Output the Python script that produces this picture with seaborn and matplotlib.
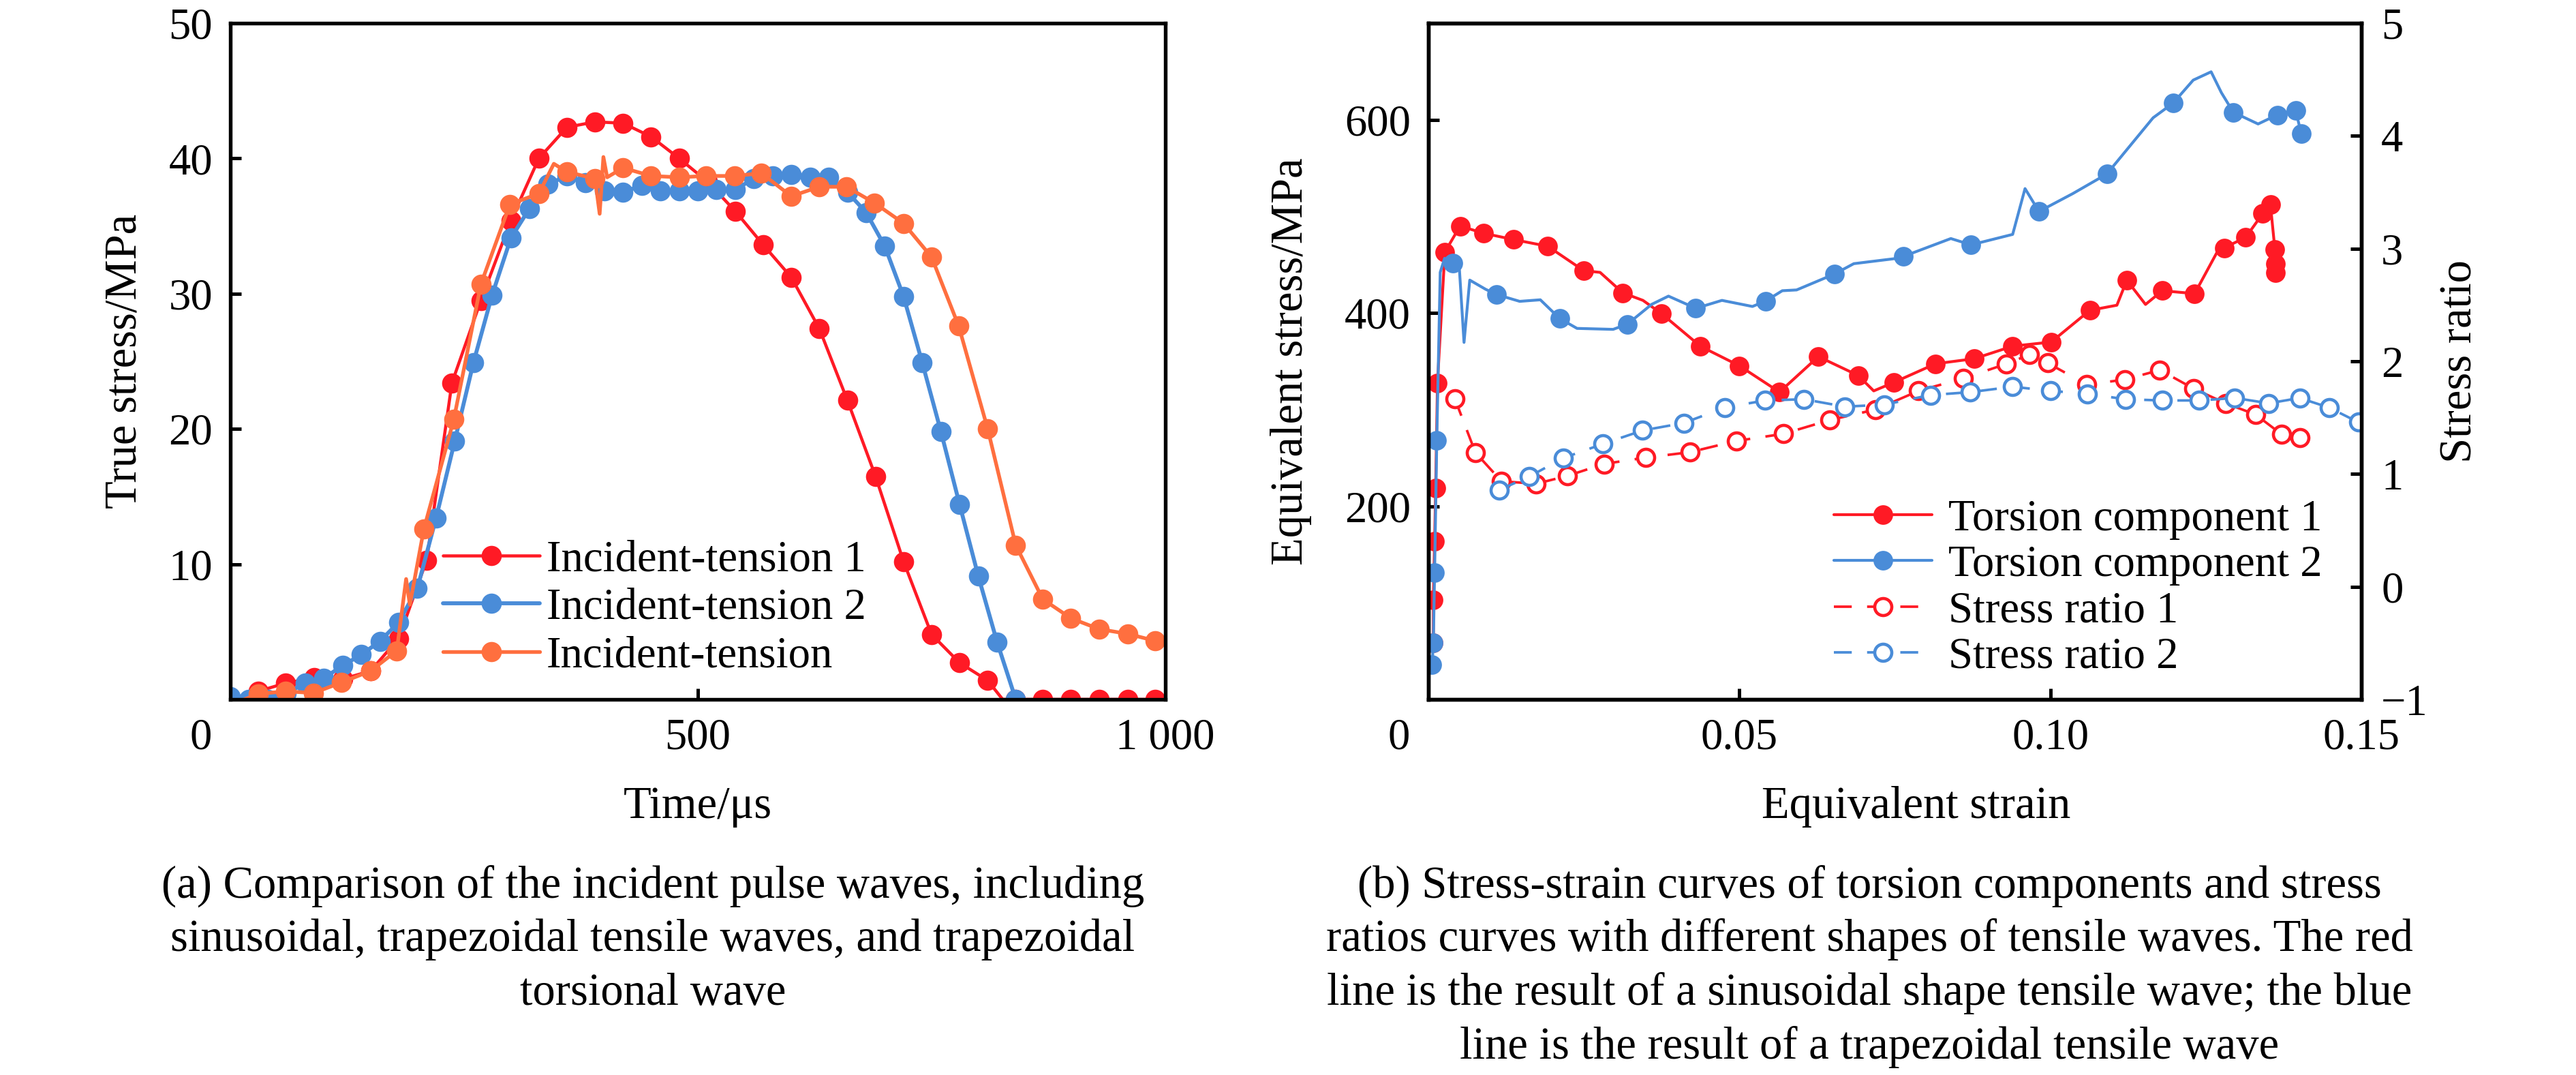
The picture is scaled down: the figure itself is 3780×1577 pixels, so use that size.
import numpy as np
import pandas as pd
import matplotlib
matplotlib.use("Agg")
import matplotlib.pyplot as plt
import matplotlib.transforms as mtransforms
import seaborn as sns

# ---------------- panel (a) data: incident pulse waves ----------------
t_tension1 = [12, 30, 59, 90, 120, 150, 180, 210, 237, 268, 300, 330, 360, 390, 420, 450,
              480, 510, 540, 570, 600, 630, 660, 690, 720, 750, 780, 810, 826, 840, 869,
              899, 929, 960, 989, 1000]
s_tension1 = [0.0, 0.6, 1.2, 1.6, 1.5, 2.1, 4.5, 10.3, 23.4, 29.5, 35.4, 40.0, 42.3, 42.7,
              42.6, 41.6, 40.0, 38.3, 36.1, 33.6, 31.2, 27.4, 22.1, 16.5, 10.2, 4.8, 2.7,
              1.4, 0.0, 0.0, 0.0, 0.0, 0.0, 0.0, 0.0, 0.0]
m_tension1 = [0, 1, 1, 1, 1, 1, 1, 1, 1, 1, 1, 1, 1, 1, 1, 1, 1, 1, 1, 1, 1, 1, 1, 1, 1,
              1, 1, 1, 0, 1, 1, 1, 1, 1, 1, 0]

t_tension2 = [0, 20, 40, 60, 80, 100, 120, 140, 160, 180, 200, 220, 240, 260, 280, 300,
              320, 340, 360, 380, 400, 420, 440, 460, 480, 500, 520, 540, 560, 580, 600,
              620, 640, 660, 680, 700, 720, 740, 760, 780, 800, 820, 840]
s_tension2 = [0.2, 0.0, 0.0, 0.45, 1.2, 1.56, 2.5, 3.3, 4.3, 5.7, 8.2, 13.4, 19.1, 24.9,
              29.9, 34.1, 36.3, 38.1, 38.7, 38.2, 37.6, 37.5, 38.0, 37.6, 37.6, 37.6, 37.7,
              37.7, 38.5, 38.7, 38.8, 38.6, 38.6, 37.5, 36.0, 33.5, 29.8, 24.9, 19.8, 14.4,
              9.1, 4.25, 0.0]
m_tension2 = [1] * len(t_tension2)

t_tension = [15, 30, 59, 89, 119, 150, 178, 188, 192, 207, 239, 268, 299, 330, 346, 360,
             390, 395, 399, 403, 420, 450, 480, 509, 539, 568, 600, 630, 659, 689, 720,
             750, 779, 810, 840, 869, 899, 929, 960, 989, 1000]
s_tension = [0.0, 0.4, 0.6, 0.47, 1.25, 2.1, 3.6, 8.9, 7.0, 12.6, 20.7, 30.7, 36.6, 37.4,
             39.6, 39.0, 38.5, 35.9, 40.1, 38.6, 39.3, 38.7, 38.6, 38.7, 38.7, 38.9, 37.2,
             37.9, 37.9, 36.7, 35.2, 32.7, 27.6, 20.0, 11.4, 7.4, 6.0, 5.2, 4.84, 4.33, 4.2]
m_tension = [0, 1, 1, 1, 1, 1, 1, 0, 0, 1, 1, 1, 1, 1, 0, 1, 1, 0, 0, 0, 1, 1, 1, 1, 1,
             1, 1, 1, 1, 1, 1, 1, 1, 1, 1, 1, 1, 1, 1, 1, 0]

labels_a = ["Incident-tension 1", "Incident-tension 2", "Incident-tension"]
xticks_a = [0, 500, 1000]
xticklabels_a = ["0", "500", "1 000"]
yticks_a = [10, 20, 30, 40, 50]
yticklabels_a = ["10", "20", "30", "40", "50"]

# ---------------- panel (b) data: stress-strain & stress ratio ----------------
e_torsion1 = [0.0008, 0.0008, 0.0010, 0.00117, 0.00146, 0.00265, 0.0051, 0.00886, 0.01365,
              0.0192, 0.0250, 0.0276, 0.03126, 0.0345, 0.0375, 0.04374, 0.0500, 0.05645,
              0.0627, 0.0691, 0.0716, 0.0748, 0.08154, 0.08774, 0.09394, 0.10014, 0.10635,
              0.1107, 0.1123, 0.1153, 0.1180, 0.1232, 0.1269, 0.12794, 0.13141, 0.13414,
              0.13538, 0.1361, 0.1362, 0.1362]
s_torsion1 = [58.7, 103, 163.5, 218.5, 327.6, 463, 490, 482.5, 476, 469, 443.7, 442, 420.8,
              413, 399.2, 365.5, 345.3, 318.1, 354.8, 335.3, 319.3, 328, 347.4, 352.6, 365.6,
              369.9, 402.7, 408, 433.9, 408.8, 423, 420, 464, 467.4, 478.2, 502.8, 512.3,
              466, 451, 442]
m_torsion1 = [1, 1, 1, 1, 1, 1, 1, 1, 1, 1, 1, 0, 1, 0, 1, 1, 1, 1, 1, 1, 0, 1, 1, 1, 1,
              1, 1, 0, 1, 0, 1, 1, 0, 1, 1, 1, 1, 1, 1, 1]

e_torsion2 = [0.0006, 0.0008, 0.0010, 0.00135, 0.0019, 0.0026, 0.0039, 0.0050, 0.00573,
              0.00665, 0.0092, 0.0110, 0.01468, 0.0180, 0.0211, 0.0239, 0.0297, 0.0320,
              0.0359, 0.0386, 0.0430, 0.0472, 0.0521, 0.0542, 0.0569, 0.0592, 0.06526,
              0.0684, 0.0751, 0.07633, 0.0840, 0.08725, 0.09394, 0.09593, 0.09817, 0.1036,
              0.10908, 0.11652, 0.11974, 0.12297, 0.12585, 0.1275, 0.12942, 0.1334, 0.13647,
              0.13944, 0.14034]
s_torsion2 = [35.7, 58.7, 131.3, 268, 442, 456.5, 451.9, 444, 369.5, 434, 424.5, 419, 412,
              413.6, 394.3, 384, 383, 388.4, 408.9, 417.4, 404.8, 413, 406.7, 412.2, 423,
              423.8, 440.2, 451, 456.3, 458.4, 477, 470.5, 481.3, 528.7, 505, 523.5, 543.8,
              602, 617.2, 641, 649.6, 628, 607.7, 595.6, 605, 609.5, 585.7]
m_torsion2 = [1, 1, 1, 1, 0, 0, 1, 0, 0, 0, 0, 1, 0, 0, 1, 0, 0, 1, 0, 0, 1, 0, 0, 1, 0,
              0, 1, 0, 0, 1, 0, 1, 0, 0, 1, 0, 1, 0, 1, 0, 0, 0, 1, 0, 1, 1, 1]

e_ratio1 = [0.00427, 0.00756, 0.01176, 0.01732, 0.02236, 0.02823, 0.03493, 0.04203, 0.04951,
            0.05709, 0.06452, 0.07186, 0.07881, 0.0860, 0.09295, 0.09667, 0.09955, 0.10585,
            0.11195, 0.11762, 0.12307, 0.12818, 0.1330, 0.13722, 0.14009]
r_ratio1 = [1.665, 1.19, 0.935, 0.913, 0.983, 1.089, 1.145, 1.193, 1.293, 1.356, 1.478,
            1.571, 1.737, 1.848, 1.977, 2.059, 1.985, 1.793, 1.837, 1.922, 1.756, 1.627,
            1.527, 1.35, 1.321]

e_ratio2 = [0.01135, 0.01625, 0.02173, 0.02808, 0.03445, 0.04105, 0.04765, 0.0541, 0.06037,
            0.06697, 0.07333, 0.0807, 0.08715, 0.09394, 0.10005, 0.1060, 0.11205, 0.11801,
            0.12396, 0.12967, 0.13513, 0.14009, 0.1448, 0.14952]
r_ratio2 = [0.857, 0.978, 1.142, 1.267, 1.386, 1.452, 1.589, 1.652, 1.663, 1.597, 1.615,
            1.70, 1.726, 1.774, 1.737, 1.711, 1.663, 1.652, 1.652, 1.674, 1.627, 1.674,
            1.589, 1.459]

labels_b = ["Torsion component 1", "Torsion component 2", "Stress ratio 1", "Stress ratio 2"]
xticks_b = [0, 0.05, 0.10, 0.15]
xticklabels_b = ["0", "0.05", "0.10", "0.15"]
yticks_b = [200, 400, 600]
yticklabels_b = ["200", "400", "600"]
y2ticks_b = [-1, 0, 1, 2, 3, 4, 5]
y2ticklabels_b = ["\u22121", "0", "1", "2", "3", "4", "5"]

caption_a = ["(a) Comparison of the incident pulse waves, including",
             "sinusoidal, trapezoidal tensile waves, and trapezoidal",
             "torsional wave"]
caption_b = ["(b) Stress-strain curves of torsion components and stress",
             "ratios curves with different shapes of tensile waves. The red",
             "line is the result of a sinusoidal shape tensile wave; the blue",
             "line is the result of a trapezoidal tensile wave"]

# ---------------- style ----------------
RED = "#FF1A25"
BLUE = "#4A8CD8"
ORANGE = "#FF6F3F"

sns.set_theme(style="ticks", rc={
    "axes.edgecolor": "black", "axes.linewidth": 1.3,
    "xtick.color": "black", "ytick.color": "black",
    "xtick.direction": "in", "ytick.direction": "in",
    "xtick.major.size": 3.8, "ytick.major.size": 3.8,
    "xtick.major.width": 1.2, "ytick.major.width": 1.2,
    "text.color": "black", "axes.labelcolor": "black",
})
plt.rcParams["font.family"] = ["Liberation Serif", "DejaVu Serif"]
plt.rcParams["axes.unicode_minus"] = True

TICK_FS = 15.5
LABEL_FS = 16
LEG_FS = 15.5
CAP_FS = 16

fig = plt.figure(figsize=(12.6, 5.257), dpi=300)
W, H = 3780, 1577
ax_a = fig.add_axes([338 / W, 1 - 1026 / H, 1372 / W, 992 / H])
ax_b = fig.add_axes([2096 / W, 1 - 1026 / H, 1369 / W, 992 / H])


def idx(mask):
    return [i for i, m in enumerate(mask) if m]


def line(ax, x, y, mask, color, lw, label, ms=6.6):
    df = pd.DataFrame({"x": x, "y": y})
    sns.lineplot(data=df, x="x", y="y", ax=ax, color=color, linewidth=lw,
                 marker="o", markersize=ms, markevery=idx(mask),
                 markeredgecolor=color, markerfacecolor=color, markeredgewidth=0.5,
                 estimator=None, sort=False, label=label)


# ---- panel (a)
line(ax_a, t_tension1, s_tension1, m_tension1, RED, 1.1, labels_a[0])
line(ax_a, t_tension2, s_tension2, m_tension2, BLUE, 1.4, labels_a[1])
line(ax_a, t_tension, s_tension, m_tension, ORANGE, 1.3, labels_a[2])

ax_a.set_xlim(0, 1000)
ax_a.set_ylim(0, 50)
ax_a.set_xticks(xticks_a)
ax_a.set_xticklabels(xticklabels_a)
ax_a.set_yticks(yticks_a)
ax_a.set_yticklabels(yticklabels_a)
ax_a.tick_params(axis="both", labelsize=TICK_FS)
ax_a.tick_params(axis="y", pad=6.2)
ax_a.tick_params(axis="x", pad=6.5)
ax_a.set_xlabel("Time/\u03bcs", fontsize=LABEL_FS)
ax_a.set_ylabel("True stress/MPa", fontsize=LABEL_FS)
ax_a.xaxis.set_label_coords(0.5, -0.128)
ax_a.yaxis.set_label_coords(-0.0905, 0.5)

h_a, l_a = ax_a.get_legend_handles_labels()
ax_a.legend(h_a, l_a, loc="upper left", bbox_to_anchor=(0.2274, 0.236),
            frameon=False, borderpad=0, borderaxespad=0, handlelength=2.2,
            handletextpad=0.15, labelspacing=0.17, fontsize=LEG_FS)

# ---- panel (b)
ax_b2 = ax_b.twinx()
line(ax_b, e_torsion1, s_torsion1, m_torsion1, RED, 1.0, labels_b[0], ms=6.4)
line(ax_b, e_torsion2, s_torsion2, m_torsion2, BLUE, 1.0, labels_b[1], ms=6.4)
for e, r, c, lab in [(e_ratio1, r_ratio1, RED, labels_b[2]),
                     (e_ratio2, r_ratio2, BLUE, labels_b[3])]:
    df = pd.DataFrame({"x": e, "y": r})
    sns.lineplot(data=df, x="x", y="y", ax=ax_b2, color=c, linewidth=0.9,
                 linestyle=(0, (7, 6)), marker="o", markersize=6.0,
                 markerfacecolor="white", markeredgecolor=c, markeredgewidth=1.1,
                 estimator=None, sort=False, label=lab)

ax_b.set_xlim(0, 0.15)
ax_b.set_ylim(0, 700)
ax_b2.set_ylim(-1, 5)
ax_b.set_xticks(xticks_b)
ax_b.set_xticklabels(xticklabels_b)
ax_b.set_yticks(yticks_b)
ax_b.set_yticklabels(yticklabels_b)
ax_b2.set_yticks(y2ticks_b)
ax_b2.set_yticklabels(y2ticklabels_b)
ax_b.tick_params(axis="both", labelsize=TICK_FS)
ax_b.tick_params(axis="y", pad=6.2)
ax_b.tick_params(axis="x", pad=6.5)
ax_b2.tick_params(axis="y", labelsize=TICK_FS, pad=7.0, direction="in")
ax_b.set_xlabel("Equivalent strain", fontsize=LABEL_FS)
ax_b.set_ylabel("Equivalent stress/MPa", fontsize=LABEL_FS)
ax_b2.set_ylabel("Stress ratio", fontsize=LABEL_FS)
ax_b.xaxis.set_label_coords(0.523, -0.128)
ax_b.yaxis.set_label_coords(-0.1249, 0.5)
ax_b2.yaxis.set_label_coords(1.084, 0.5)

leg = ax_b.get_legend()
if leg is not None:
    leg.remove()
h1, l1 = ax_b.get_legend_handles_labels()
h2, l2 = ax_b2.get_legend_handles_labels()
ax_b2.legend(h1 + h2, l1 + l2, loc="upper left", bbox_to_anchor=(0.4346, 0.296),
             frameon=False, borderpad=0, borderaxespad=0, handlelength=2.23,
             handletextpad=0.37, labelspacing=0.12, fontsize=LEG_FS)

# shift the "0" labels at the lower-left corners
for ax in (ax_a, ax_b):
    offset = mtransforms.ScaledTranslation(-10.3 / 72, 0, fig.dpi_scale_trans)
    tick0 = ax.xaxis.get_major_ticks()[0]
    tick0.label1.set_transform(tick0.label1.get_transform() + offset)

# ---- captions
for i, txt in enumerate(caption_a):
    fig.text(958 / W, 1 - (1316 + 79 * i) / H, txt, ha="center", va="baseline",
             fontsize=CAP_FS)
for i, txt in enumerate(caption_b):
    fig.text(2743 / W, 1 - (1316 + 79 * i) / H, txt, ha="center", va="baseline",
             fontsize=CAP_FS)

fig.savefig("out.png", dpi=300)
